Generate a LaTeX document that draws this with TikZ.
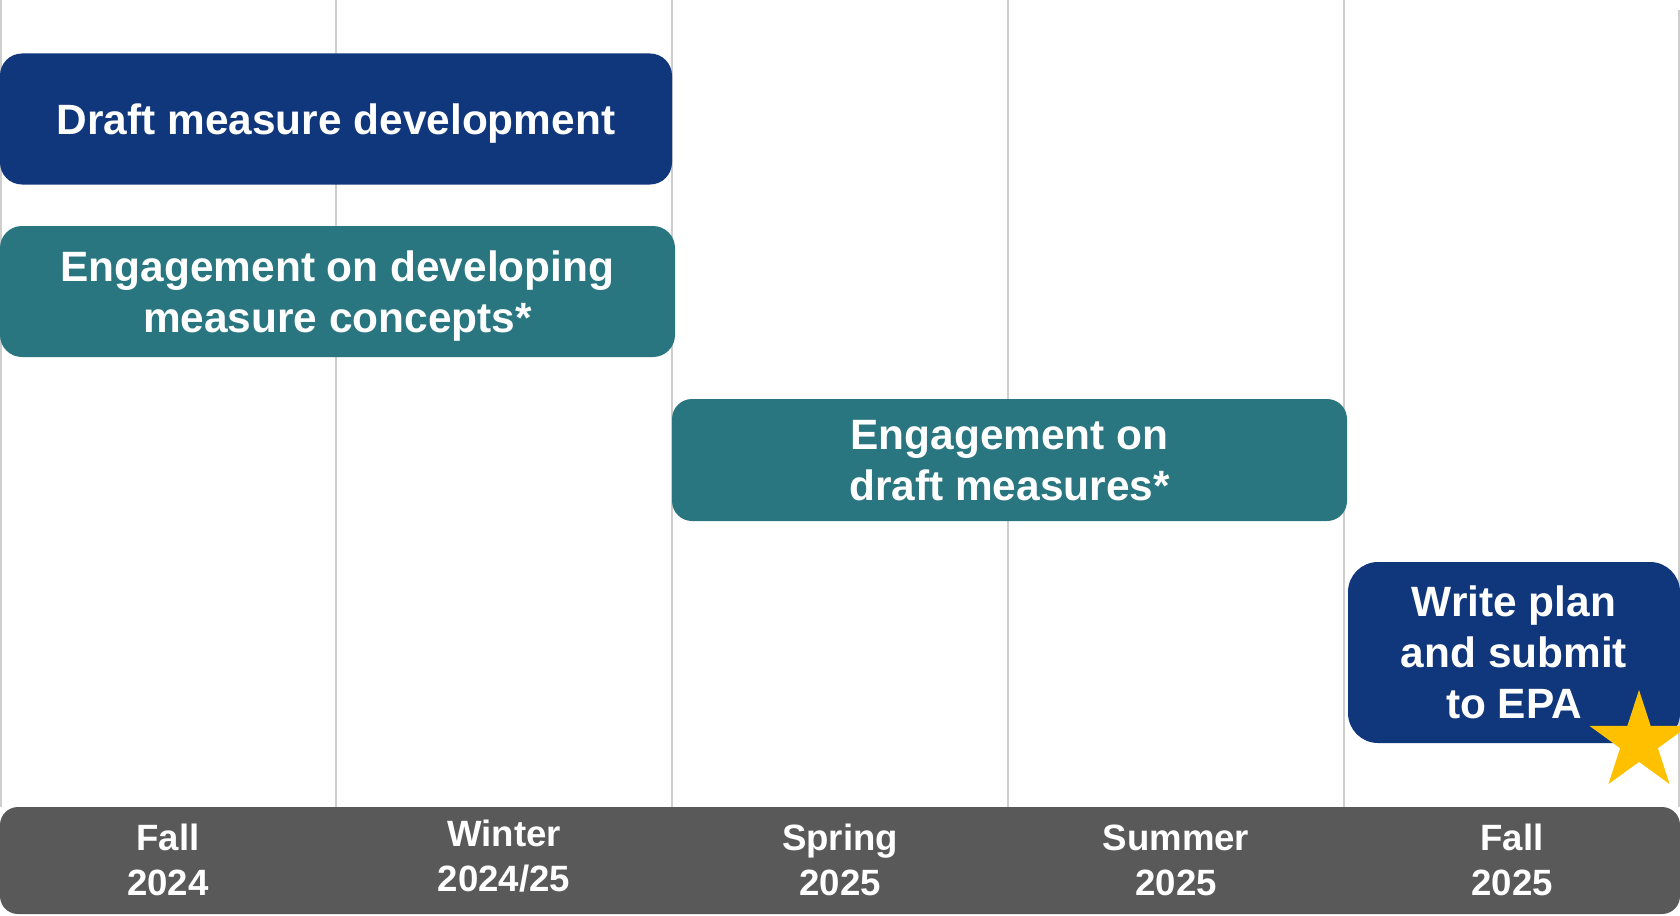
\documentclass[tikz,border=0pt]{standalone}
\usepackage{fontspec}
\setmainfont{Liberation Sans}
\usepackage{tikz}
\usetikzlibrary{shapes.geometric}

\definecolor{planblue}{RGB}{16,54,123}
\definecolor{planteal}{RGB}{41,118,128}
\definecolor{bargray}{RGB}{89,89,89}
\definecolor{gridgray}{RGB}{206,206,206}
\definecolor{stargold}{RGB}{255,192,0}

\begin{document}
\begin{tikzpicture}[x=0.5pt,y=-0.5pt]
% Timeline style
\tikzset{
    stage/.style={rectangle, inner sep=0pt, text=white, align=center, text depth=0pt,
        font=\fontsize{21.2}{25.5}\selectfont\bfseries},
    season/.style={inner sep=0pt, text=white, align=center,
        font=\fontsize{18.3}{22.5}\selectfont\bfseries},
    gridline/.style={draw=gridgray, line width=0.75pt}
}
\useasboundingbox (0,0) rectangle (1680,915);

% Grid lines
\draw[gridline] (1,0) -- (1,807);
\draw[gridline] (336,0) -- (336,807);
\draw[gridline] (672,0) -- (672,807);
\draw[gridline] (1008,0) -- (1008,807);
\draw[gridline] (1344,0) -- (1344,807);
\draw[gridline] (1679,10) -- (1679,807);

% Stages
\node[stage, fill=planblue, rounded corners=11pt, minimum width=336pt, minimum height=65.5pt]
    (DEVa) at (336,119) {Draft measure development};
\node[stage, fill=planteal, rounded corners=11pt, minimum width=337.5pt, minimum height=65.5pt]
    (ENGa) at (337.5,291.5) {Engagement on developing\\measure concepts*};
\node[stage, fill=planteal, rounded corners=10pt, minimum width=337.5pt, minimum height=61pt]
    (ENGb) at (1009.5,460) {Engagement on\\draft measures*};
\node[stage, fill=planblue, rounded corners=15pt, minimum width=166pt, minimum height=90.5pt]
    (PLANa) at (1514,652.5) {Write plan\\and submit\\to EPA};

% Milestone
\node[star, star points=5, star point ratio=2.618, fill=stargold, inner sep=0pt,
    minimum size=52pt] (STARa) at (1639,742) {};

% Seasons
\node[fill=bargray, rounded corners=9pt, minimum width=840pt, minimum height=53.5pt]
    (BARa) at (840,860.5) {};
\node[season] (FALLa) at (168,860) {Fall\\2024};
\node[season] (WINa) at (504,856) {Winter\\2024/25};
\node[season] (SPRa) at (840,860) {Spring\\2025};
\node[season] (SUMa) at (1176,860) {Summer\\2025};
\node[season] (FALLb) at (1512,860) {Fall\\2025};

\end{tikzpicture}
\end{document}
